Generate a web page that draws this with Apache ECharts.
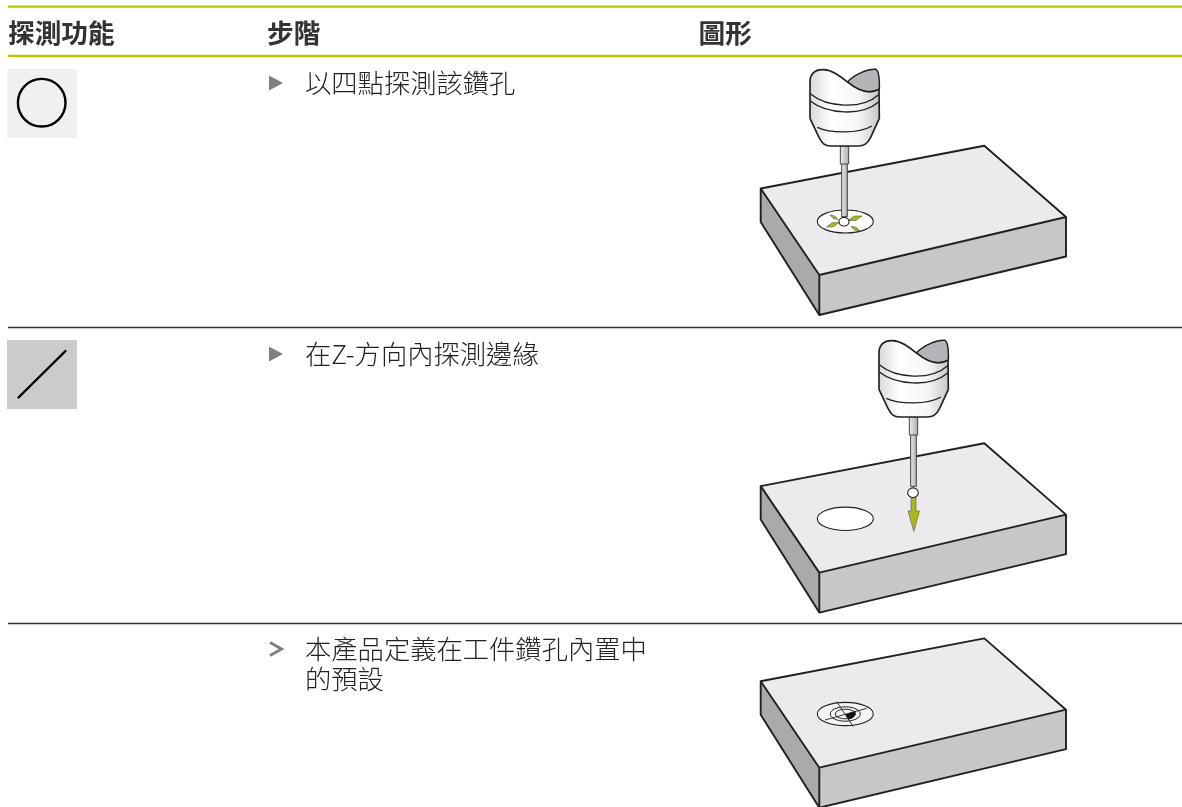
<!DOCTYPE html>
<html>
<head>
<meta charset="utf-8">
<style>
  html, body { margin: 0; padding: 0; background: #fff; }
  #main { width: 1182px; height: 807px; }
</style>
</head>
<body>
<div id="main"></div>
<script src="https://cdn.jsdelivr.net/npm/echarts@6/dist/echarts.min.js"></script>
<script>
// table text
var headers = ["探測功能", "步階", "圖形"];
var stepLines = [
  ["以四點探測該鑽孔"],
  ["在Z-方向內探測邊緣"],
  ["本產品定義在工件鑽孔內置中", "的預設"]
];
var stepMarks = ["triangle", "triangle", "chevron"];

// layout of the table
var headerX = [8, 267, 698.5];
var headerY = 33;
var stepX = 305;
var stepY = [83, 354, 649];
var lineGap = 30;
var markX = 269;
var ruleX = [8, 1182];
var accentRules = [6.7, 55.8];
var darkRules = [327.5, 623.5];
var blockOffsets = [0, 297.6, 492.7];

var font = '"Noto Sans CJK TC", "Noto Sans", sans-serif';
var yellow = "#bcc400";
var ink = "#231f20";
var arrowFill = "#aab81a";

var els = [];

function line(x1, y1, x2, y2, color, w) {
  return { type: "line", shape: { x1: x1, y1: y1, x2: x2, y2: y2 }, style: { stroke: color, lineWidth: w } };
}
function path(d, fill, stroke, w, join) {
  return {
    type: "path",
    shape: { pathData: d },
    style: { fill: fill || "none", stroke: stroke || "none", lineWidth: w || 0, lineJoin: join || "round" }
  };
}
function text(str, x, y, size, weight, color) {
  return {
    type: "text",
    x: x, y: y,
    style: { text: str, font: weight + " " + size + "px " + font, fill: color, verticalAlign: "middle" }
  };
}
function ellipse(cx, cy, rx, ry, fill, stroke, w) {
  return { type: "ellipse", shape: { cx: cx, cy: cy, rx: rx, ry: ry }, style: { fill: fill, stroke: stroke, lineWidth: w } };
}

// table rules
accentRules.forEach(function (y) { els.push(line(ruleX[0], y, ruleX[1], y, yellow, 2.3)); });
darkRules.forEach(function (y) { els.push(line(ruleX[0], y, ruleX[1], y, "#333", 1.3)); });

// header and step text
headers.forEach(function (h, i) { els.push(text(h, headerX[i], headerY, 26.7, "bold", "#333")); });
stepLines.forEach(function (rows, i) {
  rows.forEach(function (row, j) {
    els.push(text(row, stepX, stepY[i] + j * lineGap, 26.3, "300", "#222"));
  });
  var y = stepY[i];
  if (stepMarks[i] === "triangle") {
    els.push(path("M" + markX + " " + (y - 7.5) + "L" + (markX + 14) + " " + y + "L" + markX + " " + (y + 7.5) + "Z", "#808080"));
  } else {
    els.push(path("M" + (markX + 1) + " " + (y - 6.5) + "L" + (markX + 12.5) + " " + y + "L" + (markX + 1) + " " + (y + 6.5), "none", "#808080", 3, "miter"));
  }
});

// icons in the first column
els.push({ type: "rect", shape: { x: 7, y: 69, width: 70, height: 69 }, style: { fill: "#f0f0f0" } });
els.push({ type: "circle", shape: { cx: 41.7, cy: 102.7, r: 23.8 }, style: { fill: "none", stroke: "#000", lineWidth: 2.4 } });
els.push({ type: "rect", shape: { x: 7, y: 340, width: 70, height: 69 }, style: { fill: "#cbcbcb" } });
els.push({ type: "line", shape: { x1: 18.5, y1: 397.5, x2: 65.5, y2: 351 }, style: { stroke: "#000", lineWidth: 2.4, lineCap: "round" } });

// workpiece block, shifted down for each row
function block(dy) {
  function pt(x, y) { return x + " " + (y + dy); }
  return {
    type: "group",
    children: [
      path("M" + pt(760.7, 188.5) + "L" + pt(984.3, 145.7) + "L" + pt(1066, 217) + "L" + pt(819.3, 275) + "Z", "#ebebed"),
      path("M" + pt(819.3, 275) + "L" + pt(1066, 217) + "L" + pt(1066, 256.5) + "L" + pt(819.3, 315) + "Z", "#c6c7c8"),
      path("M" + pt(760.7, 188.5) + "L" + pt(819.3, 275) + "L" + pt(819.3, 315) + "L" + pt(760.7, 222) + "Z", "#a9aaac"),
      path("M" + pt(760.7, 222) + "L" + pt(760.7, 188.5) + "L" + pt(984.3, 145.7) + "L" + pt(1066, 217) + "L" + pt(1066, 256.5) +
        "L" + pt(819.3, 315) + "Z", "none", ink, 1.9),
      path("M" + pt(760.7, 188.5) + "L" + pt(819.3, 275) + "L" + pt(1066, 217) + "M" + pt(819.3, 275) + "L" + pt(819.3, 315), "none", ink, 1.9)
    ]
  };
}
blockOffsets.forEach(function (dy) { els.push(block(dy)); });

// probe, drawn in 3x units so the group scale brings it down to page size
function probe(x, y, stemEnd) {
  var grad = {
    type: "linear", x: 0, y: 0, x2: 1, y2: 0,
    colorStops: [
      { offset: 0, color: "#d6d7d8" }, { offset: 0.3, color: "#ffffff" },
      { offset: 0.7, color: "#f6f6f6" }, { offset: 1, color: "#c3c4c6" }
    ]
  };
  var stemGrad = {
    type: "linear", x: 0, y: 0, x2: 1, y2: 0,
    colorStops: [{ offset: 0, color: "#f0f0f0" }, { offset: 1, color: "#a8a9ab" }]
  };
  var body = "M210 100C208 72 225 58 250 59C278 60 300 78 325 98C352 120 385 135 417 118L418 205L392 262C382 282 372 288 355 288L272 288C255 288 247 282 237 262L210 205Z";
  return {
    type: "group", x: x, y: y, scaleX: 1 / 3, scaleY: 1 / 3,
    children: [
      { type: "rect", shape: { x: 305, y: 340, width: 17, height: stemEnd - 340 }, style: { fill: stemGrad, stroke: "#444", lineWidth: 3 } },
      { type: "rect", shape: { x: 301, y: 288, width: 25, height: 54 }, style: { fill: stemGrad, stroke: "#444", lineWidth: 3 } },
      path("M322 96C345 72 385 56 408 58C417 64 419 85 418 118C385 135 352 120 322 96Z", "#b4b5b8", ink, 4.5),
      { type: "path", shape: { pathData: body }, style: { fill: grad, stroke: ink, lineWidth: 5, lineJoin: "round" } },
      path("M212 132C260 172 365 180 416 134", "none", ink, 4),
      path("M212 154C260 192 365 200 416 156", "none", ink, 4),
      path("M232 232C270 250 355 252 396 228", "none", ink, 4)
    ]
  };
}

// first row: hole, probe and four small arrows around the ball
var hole1Arrows = [
  [830, 215, 838, 219.5], [862, 216, 848, 220.5],
  [826.5, 227, 839, 222.5], [860, 231, 851, 226.5]
];
els.push(ellipse(845.3, 221.5, 28, 11.5, "#fff", ink, 1.1));
els.push(probe(740, 50, 500));
hole1Arrows.forEach(function (a) {
  var mx = (a[0] + a[2]) / 2, my = (a[1] + a[3]) / 2;
  var nx = (a[3] - a[1]) * 0.16, ny = -(a[2] - a[0]) * 0.16;
  els.push(path("M" + a[0] + " " + a[1] + "L" + (mx + nx) + " " + (my + ny) + "L" + a[2] + " " + a[3] + "L" + (mx - nx) + " " + (my - ny) + "Z", arrowFill, "#555", 0.6));
});
els.push(ellipse(844, 221.7, 5, 4.3, "#fff", ink, 1.1));

// second row: empty hole, probe, ball and the downward arrow
els.push(ellipse(845.3, 518.8, 28, 11.7, "#fff", ink, 1.1));
els.push(probe(809, 321, 496));
els.push(path("M911 497L916 497L916 511L919.5 511L913.8 531.5L908 511L911 511Z", arrowFill, "#555", 0.6));
els.push(ellipse(913, 492.7, 5.3, 4.8, "#fff", ink, 1.1));

// third row: found centre of the hole
els.push(ellipse(845.3, 714, 28, 11.6, "#f4f4f4", ink, 1.1));
els.push(ellipse(845.3, 714, 15, 7.2, "none", ink, 1));
els.push(ellipse(845.3, 714, 10, 4.8, "#f4f4f4", ink, 1));
els.push(path("M845.5 714.5L855 711C857 715 853 719 848 719.5Z", "#111"));
els.push(line(836.7, 701.7, 853.3, 726.7, ink, 0.9));
els.push(line(825, 720, 866.7, 708.3, ink, 0.9));

var chart = echarts.init(document.getElementById("main"));
chart.setOption({
  backgroundColor: "#fff",
  animation: false,
  series: [{
    type: "custom",
    coordinateSystem: "none",
    silent: true,
    data: [[0]],
    renderItem: function () {
      return { type: "group", children: els };
    }
  }]
});
</script>
</body>
</html>
